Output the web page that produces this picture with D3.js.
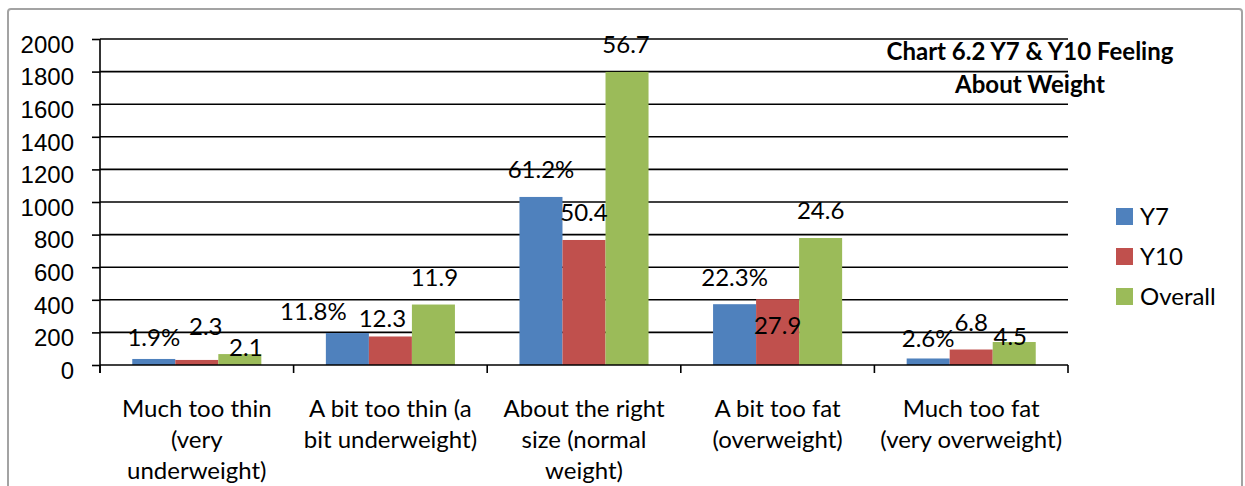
<!DOCTYPE html>
<meta charset="utf-8">
<style>
body { margin: 0; background: #fff; }
svg { display: block; font-family: Lato, "Open Sans", sans-serif; }
.grid line { stroke: #000; stroke-width: 1.6; }
.axis path, .axis line { stroke: #000; stroke-width: 1.6; }
.axis text { font-size: 24px; fill: #000; }
.lbl { font-size: 24px; fill: #000; }
</style>
<div id="chart"></div>
<script src="https://cdn.jsdelivr.net/npm/d3@7"></script>
<script>

var categories = [
  "Much too thin\n(very\nunderweight)",
  "A bit too thin (a\nbit underweight)",
  "About the right\nsize (normal\nweight)",
  "A bit too fat\n(overweight)",
  "Much too fat\n(very overweight)"
];
var seriesNames = ["Y7", "Y10", "Overall"];

// bar heights (counts)
var y7Counts = [37, 196, 1031, 373, 40];
var y10Counts = [31, 175, 767, 404, 95];
var overallCounts = [67, 371, 1798, 779, 141];

// numbers printed on the bars
var y7Labels = ["1.9%", "11.8%", "61.2%", "22.3%", "2.6%"];
var y10Labels = ["2.3", "12.3", "50.4", "27.9", "6.8"];
var overallLabels = ["2.1", "11.9", "56.7", "24.6", "4.5"];

var yTicks = [0, 200, 400, 600, 800, 1000, 1200, 1400, 1600, 1800, 2000];

// hand placed labels in the original: pixel nudges from the default spot
var labelNudge = {
  Y7:      [[0, 6], [-34, 6], [0, 0], [0, 0], [0, 7]],
  Y10:     [[9, -6], [-8, 9], [0, 0], [0, 53], [0, 0]],
  Overall: [[6, 21], [1, 0], [-1, 0], [0, 0], [-4, 22]]
};

var colors = { Y7: "#4F81BD", Y10: "#C0504D", Overall: "#9BBB59" };

var data = categories.map(function(c, i) {
  return {
    cat: c,
    values: [
      { key: "Y7", value: y7Counts[i], label: y7Labels[i] },
      { key: "Y10", value: y10Counts[i], label: y10Labels[i] },
      { key: "Overall", value: overallCounts[i], label: overallLabels[i] }
    ]
  };
});

var W = 1245, H = 486,
    margin = {top: 39, left: 100},
    width = 968,
    height = 326;

var svg = d3.select("#chart").append("svg")
    .attr("width", W)
    .attr("height", H);

// outer chart border
svg.append("rect")
    .attr("x", 8).attr("y", 9)
    .attr("width", 1234).attr("height", 520)
    .attr("rx", 3)
    .attr("fill", "none")
    .attr("stroke", "#a3a3a3")
    .attr("stroke-width", 2);

var g = svg.append("g").attr("transform", "translate(" + margin.left + "," + margin.top + ")");

var x0 = d3.scaleBand().domain(categories).range([0, width]).paddingInner(0).paddingOuter(0);
var x1 = d3.scaleBand().domain(seriesNames).range([0, x0.bandwidth()]).paddingInner(0).paddingOuter(0.75);
var y = d3.scaleLinear().domain([0, 2000]).range([height, 0]);

// gridlines
g.append("g").attr("class", "grid")
  .selectAll("line")
  .data(yTicks.filter(function(d) { return d > 0; }))
  .enter().append("line")
    .attr("x1", 0).attr("x2", width)
    .attr("y1", function(d) { return y(d); })
    .attr("y2", function(d) { return y(d); });

// y axis
var yAxis = g.append("g").attr("class", "axis")
    .call(d3.axisLeft(y).tickValues(yTicks).tickFormat(d3.format("d")).tickSize(8).tickSizeOuter(0).tickPadding(18));
yAxis.select(".domain").remove();
yAxis.append("line").attr("x1", 0).attr("x2", 0).attr("y1", 0).attr("y2", height + 8).attr("stroke", "#000").attr("stroke-width", 1.6);
yAxis.selectAll("text").attr("dy", "0.55em");

// bars
var group = g.selectAll(".cat")
  .data(data)
  .enter().append("g")
    .attr("class", "cat")
    .attr("transform", function(d) { return "translate(" + x0(d.cat) + ",0)"; });

group.selectAll("rect")
  .data(function(d) { return d.values; })
  .enter().append("rect")
    .attr("x", function(d) { return x1(d.key); })
    .attr("y", function(d) { return y(d.value); })
    .attr("width", x1.bandwidth())
    .attr("height", function(d) { return height - y(d.value); })
    .attr("fill", function(d) { return colors[d.key]; });

// x axis with ticks between categories
var xa = g.append("g").attr("class", "axis").attr("transform", "translate(0," + height + ")");
xa.append("line").attr("x1", 0).attr("x2", width).attr("y1", 0).attr("y2", 0);
xa.selectAll(".sep")
  .data(d3.range(categories.length + 1))
  .enter().append("line")
    .attr("class", "sep")
    .attr("x1", function(i) { return i * x0.step(); })
    .attr("x2", function(i) { return i * x0.step(); })
    .attr("y1", 0).attr("y2", 8);

xa.selectAll(".catlbl")
  .data(categories)
  .enter().append("text")
    .attr("class", "catlbl")
    .attr("text-anchor", "middle")
    .attr("x", function(d) { return x0(d) + x0.bandwidth() / 2; })
    .attr("y", 52)
    .each(function(d) {
      var t = d3.select(this);
      d.split("\n").forEach(function(line, i) {
        t.append("tspan").attr("x", x0(d) + x0.bandwidth() / 2).attr("dy", i ? 31 : 0).text(line);
      });
    });

// value labels
group.each(function(d, ci) {
  d3.select(this).selectAll(".lbl")
    .data(d.values)
    .enter().append("text")
      .attr("class", "lbl")
      .attr("text-anchor", "middle")
      .attr("x", function(v) { return x1(v.key) + x1.bandwidth() / 2 + labelNudge[v.key][ci][0]; })
      .attr("y", function(v) { return y(v.value) - 27 + labelNudge[v.key][ci][1]; })
      .attr("dy", "0.35em")
      .text(function(v) { return v.label; });
});

// title
var title = svg.append("text")
    .attr("text-anchor", "middle")
    .attr("x", 1030)
    .attr("y", 52)
    .attr("dy", "0.35em")
    .style("font-weight", "bold")
    .style("font-size", "24px");
title.append("tspan").attr("x", 1030).text("Chart 6.2 Y7 & Y10 Feeling");
title.append("tspan").attr("x", 1030).attr("dy", 33).text("About Weight");

// legend
var legend = svg.selectAll(".legend")
  .data(seriesNames)
  .enter().append("g")
    .attr("class", "legend")
    .attr("transform", function(d, i) { return "translate(1116," + (208 + i * 40) + ")"; });

legend.append("rect")
    .attr("width", 17).attr("height", 17)
    .attr("fill", function(d) { return colors[d]; });

legend.append("text")
    .attr("x", 24)
    .attr("y", 9)
    .attr("dy", "0.35em")
    .style("font-size", "24px")
    .text(function(d) { return d; });

</script>
